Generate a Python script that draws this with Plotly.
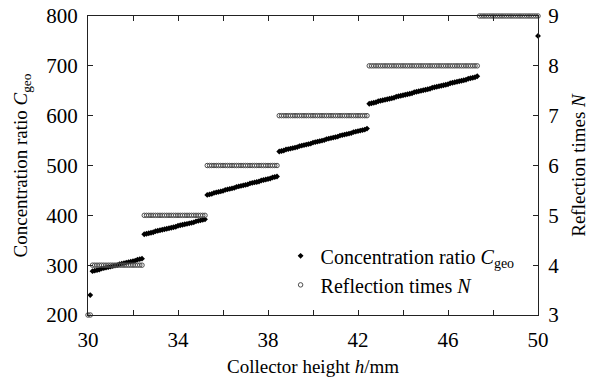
import plotly.graph_objects as go

# Collector height h (mm)
height = [
    30.0, 30.1,
    30.2, 30.3, 30.4, 30.5, 30.6, 30.7, 30.8, 30.9, 31.0, 31.1, 31.2, 31.3,
    31.4, 31.5, 31.6, 31.7, 31.8, 31.9, 32.0, 32.1, 32.2, 32.3, 32.4,
    32.5, 32.6, 32.7, 32.8, 32.9, 33.0, 33.1, 33.2, 33.3, 33.4, 33.5, 33.6,
    33.7, 33.8, 33.9, 34.0, 34.1, 34.2, 34.3, 34.4, 34.5, 34.6, 34.7, 34.8,
    34.9, 35.0, 35.1, 35.2,
    35.3, 35.4, 35.5, 35.6, 35.7, 35.8, 35.9, 36.0, 36.1, 36.2, 36.3, 36.4,
    36.5, 36.6, 36.7, 36.8, 36.9, 37.0, 37.1, 37.2, 37.3, 37.4, 37.5, 37.6,
    37.7, 37.8, 37.9, 38.0, 38.1, 38.2, 38.3, 38.4,
    38.5, 38.6, 38.7, 38.8, 38.9, 39.0, 39.1, 39.2, 39.3, 39.4, 39.5, 39.6,
    39.7, 39.8, 39.9, 40.0, 40.1, 40.2, 40.3, 40.4, 40.5, 40.6, 40.7, 40.8,
    40.9, 41.0, 41.1, 41.2, 41.3, 41.4, 41.5, 41.6, 41.7, 41.8, 41.9, 42.0,
    42.1, 42.2, 42.3, 42.4,
    42.5, 42.6, 42.7, 42.8, 42.9, 43.0, 43.1, 43.2, 43.3, 43.4, 43.5, 43.6,
    43.7, 43.8, 43.9, 44.0, 44.1, 44.2, 44.3, 44.4, 44.5, 44.6, 44.7, 44.8,
    44.9, 45.0, 45.1, 45.2, 45.3, 45.4, 45.5, 45.6, 45.7, 45.8, 45.9, 46.0,
    46.1, 46.2, 46.3, 46.4, 46.5, 46.6, 46.7, 46.8, 46.9, 47.0, 47.1, 47.2,
    47.3,
    47.4, 47.5, 47.6, 47.7, 47.8, 47.9, 48.0, 48.1, 48.2, 48.3, 48.4, 48.5,
    48.6, 48.7, 48.8, 48.9, 49.0, 49.1, 49.2, 49.3, 49.4, 49.5, 49.6, 49.7,
    49.8, 49.9, 50.0,
]

# Reflection times N
reflections = [
    3, 3,
    4, 4, 4, 4, 4, 4, 4, 4, 4, 4, 4, 4, 4, 4, 4, 4, 4, 4, 4, 4, 4, 4, 4,
    5, 5, 5, 5, 5, 5, 5, 5, 5, 5, 5, 5, 5, 5, 5, 5, 5, 5, 5, 5, 5, 5, 5,
    5, 5, 5, 5, 5,
    6, 6, 6, 6, 6, 6, 6, 6, 6, 6, 6, 6, 6, 6, 6, 6, 6, 6, 6, 6, 6, 6, 6,
    6, 6, 6, 6, 6, 6, 6, 6, 6,
    7, 7, 7, 7, 7, 7, 7, 7, 7, 7, 7, 7, 7, 7, 7, 7, 7, 7, 7, 7, 7, 7, 7,
    7, 7, 7, 7, 7, 7, 7, 7, 7, 7, 7, 7, 7, 7, 7, 7, 7,
    8, 8, 8, 8, 8, 8, 8, 8, 8, 8, 8, 8, 8, 8, 8, 8, 8, 8, 8, 8, 8, 8, 8,
    8, 8, 8, 8, 8, 8, 8, 8, 8, 8, 8, 8, 8, 8, 8, 8, 8, 8, 8, 8, 8, 8, 8,
    8, 8, 8,
    9, 9, 9, 9, 9, 9, 9, 9, 9, 9, 9, 9, 9, 9, 9, 9, 9, 9, 9, 9, 9, 9, 9,
    9, 9, 9, 9,
]

# Geometric concentration ratio C_geo (None = outside the plotted range)
concentration = [
    None, 240,
    288, 289, 290, 291, 293, 294, 295, 296, 297, 298, 299, 300, 302, 303,
    304, 305, 306, 307, 308, 309, 311, 312, 313,
    362, 363, 364, 365, 366, 368, 369, 370, 371, 372, 373, 374, 375, 376,
    377, 379, 380, 381, 382, 383, 384, 385, 386, 388, 389, 390, 391, 392,
    441, 442, 443, 445, 446, 447, 448, 449, 451, 452, 453, 454, 455, 457,
    458, 459, 460, 461, 462, 464, 465, 466, 467, 468, 470, 471, 472, 473,
    474, 476, 477, 478,
    528, 529, 530, 532, 533, 534, 535, 536, 537, 539, 540, 541, 542, 543,
    544, 546, 547, 548, 549, 550, 551, 553, 554, 555, 556, 557, 558, 560,
    561, 562, 563, 564, 565, 567, 568, 569, 570, 571, 572, 574,
    624, 625, 626, 627, 629, 630, 631, 632, 633, 634, 635, 636, 638, 639,
    640, 641, 642, 643, 644, 645, 647, 648, 649, 650, 651, 652, 653, 654,
    656, 657, 658, 659, 660, 661, 662, 663, 665, 666, 667, 668, 669, 670,
    671, 672, 674, 675, 676, 677, 679,
    None, None, None, None, None, None, None, None, None, None, None, None,
    None, None, None, None, None, None, None, None, None, None, None, None,
    None, None, 760,
]

FONT = "Liberation Serif"
TICK_SIZE = 21
TEXT_SIZE = 20
TITLE_SIZE = 19

fig = go.Figure()
fig.add_trace(go.Scatter(
    x=height, y=concentration, mode="markers",
    name="Concentration ratio <i>C</i><sub>geo</sub>",
    marker=dict(symbol="diamond", size=4.5, color="black", line=dict(width=0)),
    yaxis="y", cliponaxis=False,
))
fig.add_trace(go.Scatter(
    x=height, y=reflections, mode="markers",
    name="Reflection times <i>N</i>",
    marker=dict(symbol="circle-open", size=4.5, color="#4d4d4d",
                line=dict(width=1, color="#4d4d4d")),
    yaxis="y2", cliponaxis=False,
))

axis_common = dict(
    showline=True, linecolor="#222222", linewidth=1,
    ticks="inside", ticklen=5, tickcolor="#222222", tickwidth=1,
    showgrid=False, zeroline=False, automargin=False,
    tickfont=dict(family=FONT, size=TICK_SIZE, color="black"),
)

fig.update_layout(
    width=596, height=378,
    margin=dict(l=88, r=58, t=16, b=63),
    paper_bgcolor="white", plot_bgcolor="white",
    font=dict(family=FONT, size=TEXT_SIZE, color="black"),
    showlegend=True,
    legend=dict(
        x=0.428, y=0.263, xanchor="left", yanchor="top",
        bgcolor="rgba(0,0,0,0)", borderwidth=0,
        font=dict(family=FONT, size=TEXT_SIZE, color="black"),
        itemwidth=30, tracegroupgap=0,
    ),
    xaxis=dict(
        range=[30, 50], tick0=30, dtick=4,
        minor=dict(dtick=2, ticks="inside", ticklen=5, tickcolor="#222222",
                   showgrid=False),
        mirror="allticks", ticklabelstandoff=6,
        title=dict(text="Collector height <i>h</i>/mm", standoff=8,
                   font=dict(family=FONT, size=TITLE_SIZE)),
        **axis_common,
    ),
    yaxis=dict(
        range=[200, 800], tick0=200, dtick=100, ticklabelstandoff=5,
        title=dict(text="Concentration ratio <i>C</i><sub>geo</sub>", standoff=13,
                   font=dict(family=FONT, size=TITLE_SIZE)),
        **axis_common,
    ),
    yaxis2=dict(
        range=[3, 9], tick0=3, dtick=1, overlaying="y", side="right",
        ticklabelstandoff=5,
        title=dict(text="Reflection times <i>N</i>", standoff=13,
                   font=dict(family=FONT, size=TITLE_SIZE)),
        **axis_common,
    ),
)

fig.write_html("out.html")
